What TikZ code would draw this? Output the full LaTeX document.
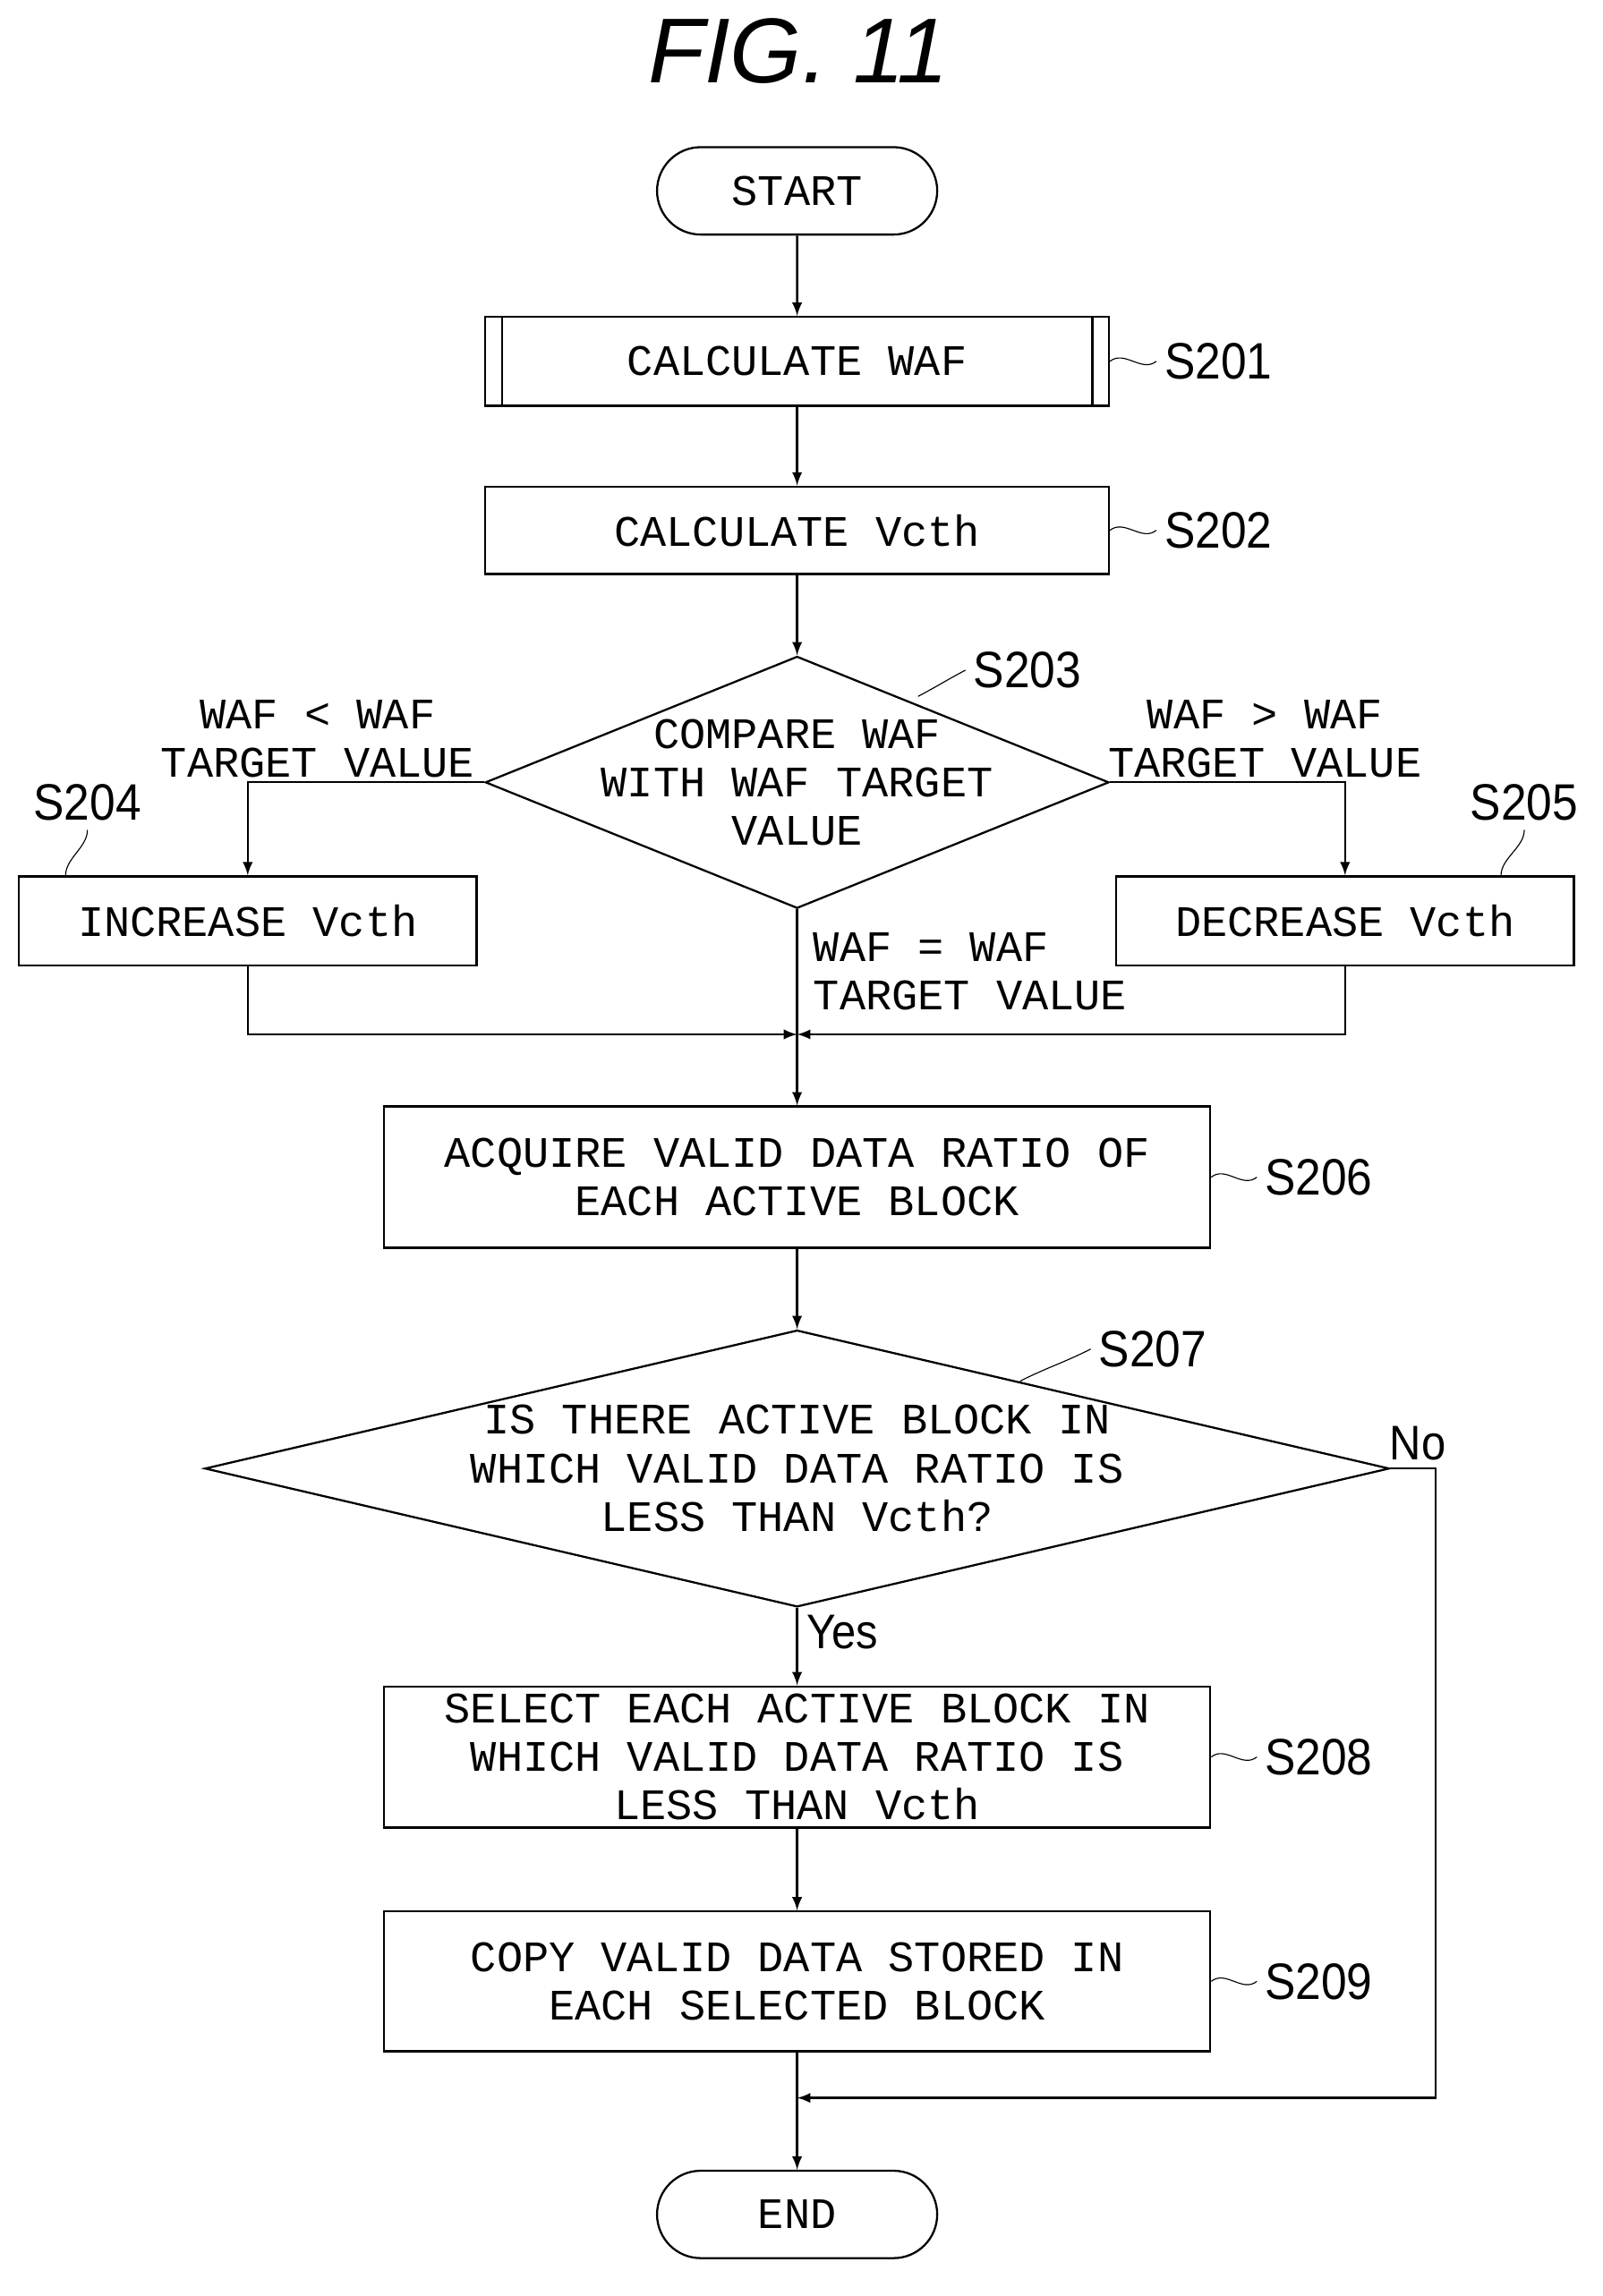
\documentclass[tikz,border=0pt]{standalone}
\usepackage{fontspec}
\setmainfont{Liberation Sans}
\setmonofont{Liberation Mono}
\usetikzlibrary{shapes.geometric,shapes.misc,arrows}
\begin{document}
\begin{tikzpicture}[x=0.02cm,y=-0.02cm,
            box/.style={rectangle, draw, thick, font=\ttfamily\fontsize{17}{19}\selectfont, align=center, inner sep=0pt},
            term/.style={rounded rectangle, draw, thick, font=\ttfamily\fontsize{17}{19}\selectfont, minimum width=4.08cm, minimum height=1.2cm},
            decision/.style={diamond, draw, thick, inner sep=0pt},
            cond/.style={font=\ttfamily\fontsize{17}{19}\selectfont, align=center},
            steplabel/.style={font=\fontsize{20}{20}\selectfont, xscale=0.9},
            line/.style={thick},
        ]
            \useasboundingbox (0,0) rectangle (1100,1576);
            %Title
            \node (title) at (548,35) {\fontsize{36}{36}\selectfont\itshape FIG. 11};

            %Nodes
            \node[term] (start) at (547,131) {START};
            \node[box, minimum width=8.56cm, minimum height=1.22cm] (s201) at (547,248) {CALCULATE WAF};
            \draw[thick] ([xshift=0.24cm]s201.north west) -- ([xshift=0.24cm]s201.south west);
            \draw[thick] ([xshift=-0.24cm]s201.north east) -- ([xshift=-0.24cm]s201.south east);
            \node[box, minimum width=8.56cm, minimum height=1.2cm] (s202) at (547,364) {CALCULATE Vcth};
            \node[decision, minimum width=8.56cm, minimum height=3.46cm] (s203) at (547,537) {};
            \node[cond] (t203) at (s203) {COMPARE WAF\\WITH WAF TARGET\\VALUE};
            \node[box, minimum width=6.28cm, minimum height=1.22cm] (s204) at (170,632) {INCREASE Vcth};
            \node[box, minimum width=6.28cm, minimum height=1.22cm] (s205) at (923,632) {DECREASE Vcth};
            \coordinate (join) at (547,710);
            \node[box, minimum width=11.34cm, minimum height=1.94cm] (s206) at (547,808) {ACQUIRE VALID DATA RATIO OF\\EACH ACTIVE BLOCK};
            \node[decision, minimum width=16.26cm, minimum height=3.8cm] (s207) at (547,1008) {};
            \node[cond] (t207) at (s207) {IS THERE ACTIVE BLOCK IN\\WHICH VALID DATA RATIO IS\\LESS THAN Vcth?};
            \node[box, minimum width=11.34cm, minimum height=1.94cm] (s208) at (547,1206) {SELECT EACH ACTIVE BLOCK IN\\WHICH VALID DATA RATIO IS\\LESS THAN Vcth};
            \node[box, minimum width=11.34cm, minimum height=1.92cm] (s209) at (547,1360) {COPY VALID DATA STORED IN\\EACH SELECTED BLOCK};
            \coordinate (merge) at (547,1440);
            \node[term] (end) at (547,1520) {END};
            \coordinate (noturn) at (985,1008);

            %Step labels
            \node[steplabel] (l201) at (836,248) {S201};
            \node[steplabel] (l202) at (836,364) {S202};
            \node[steplabel] (l203) at (705,460) {S203};
            \node[steplabel] (l204) at (60,551) {S204};
            \node[steplabel] (l205) at (1046,551) {S205};
            \node[steplabel] (l206) at (905,808) {S206};
            \node[steplabel] (l207) at (791,926) {S207};
            \node[steplabel] (l208) at (905,1206) {S208};
            \node[steplabel] (l209) at (905,1360) {S209};
            \foreach \n in {201,202,206,208,209}
                \draw (s\n.east) .. controls +(10,-8) and +(-10,8) .. (l\n.west);
            \draw (630,478) .. controls +(15,-8) and +(-15,8) .. (l203.west);
            \draw (700,948) .. controls +(20,-10) and +(-20,10) .. (l207.west);
            \draw (45,601) .. controls +(0,-12) and +(0,12) .. (l204.south);
            \draw (1030,601) .. controls +(0,-12) and +(0,12) .. (l205.south);

            %Condition labels
            \node[cond] (lt) at (218,507) {WAF < WAF\\TARGET VALUE};
            \node[cond] (gt) at (868,507) {WAF > WAF\\TARGET VALUE};
            \node[cond, align=left, anchor=west] (eq) at (552,667) {WAF = WAF\\TARGET VALUE};
            \node[font=\fontsize{19}{19}\selectfont, xscale=0.9] (yes) at (578,1120) {Yes};
            \node[font=\fontsize{19}{19}\selectfont, xscale=0.9] (no) at (973,991) {No};

            %Lines
            \draw[line,-latex] (start) -- (s201);
            \draw[line,-latex] (s201) -- (s202);
            \draw[line,-latex] (s202) -- (s203);
            \draw[line,-latex] (s203.west) -| (s204.north);
            \draw[line,-latex] (s203.east) -| (s205.north);
            \draw[line,-latex] (s204.south) |- (join);
            \draw[line,-latex] (s205.south) |- (join);
            \draw[line,-latex] (s203.south) -- (s206.north);
            \draw[line,-latex] (s206) -- (s207);
            \draw[line,-latex] (s207.south) -- (s208.north);
            \draw[line,-latex] (s208) -- (s209);
            \draw[line,-latex] (s209.south) -- (end.north);
            \draw[line,-latex] (s207.east) -- (noturn) |- (merge);
        \end{tikzpicture}
\end{document}
